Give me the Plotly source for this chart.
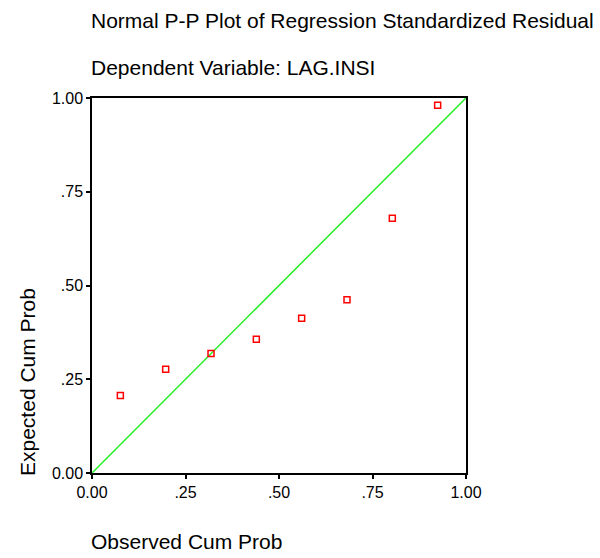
import plotly.graph_objects as go

observed = [0.0758, 0.1970, 0.3182, 0.4394, 0.5606, 0.6818, 0.8030, 0.9242]
expected = [0.207, 0.277, 0.319, 0.357, 0.413, 0.462, 0.679, 0.981]
ref_line = [0.0, 1.0]
tick_vals = [0.0, 0.25, 0.5, 0.75, 1.0]
tick_text = ["0.00", ".25", ".50", ".75", "1.00"]

FONT = "Liberation Sans, Arial, sans-serif"

fig = go.Figure()
fig.add_trace(go.Scatter(x=ref_line, y=ref_line, mode="lines",
                         line=dict(color="#22ee22", width=1.5), showlegend=False,
                         hoverinfo="skip"))
fig.add_trace(go.Scatter(x=observed, y=expected, mode="markers",
                         marker=dict(symbol="square-open", size=6, color="#ff0000",
                                     line=dict(width=1.5, color="#ff0000")),
                         showlegend=False))

axis_common = dict(range=[0, 1], tickvals=tick_vals, ticktext=tick_text,
                   showgrid=False, zeroline=False, showline=True, mirror=True,
                   linecolor="black", linewidth=1.5, ticks="outside", ticklen=4,
                   tickwidth=1.5, tickcolor="black",
                   tickfont=dict(family=FONT, size=16, color="black"))

TS = 21
fig.update_layout(
    width=600, height=558,
    margin=dict(l=92, r=134, t=98, b=85),
    paper_bgcolor="white", plot_bgcolor="white",
    font=dict(family=FONT, size=16, color="black"),
    xaxis=dict(**axis_common),
    yaxis=dict(**axis_common),
    annotations=[
        dict(text="Normal P-P Plot of Regression Standardized Residual",
             xref="paper", yref="paper", x=0, y=1, xanchor="left", yanchor="middle",
             xshift=-3, yshift=98 - 20, showarrow=False,
             font=dict(family=FONT, size=TS, color="black")),
        dict(text="Dependent Variable: LAG.INSI",
             xref="paper", yref="paper", x=0, y=1, xanchor="left", yanchor="middle",
             xshift=-3, yshift=98 - 67, showarrow=False,
             font=dict(family=FONT, size=TS, color="black")),
        dict(text="Observed Cum Prob",
             xref="paper", yref="paper", x=0, y=0, xanchor="left", yanchor="middle",
             xshift=-3, yshift=-(541 - 473), showarrow=False,
             font=dict(family=FONT, size=TS, color="black")),
        dict(text="Expected Cum Prob", textangle=-90,
             xref="paper", yref="paper", x=0, y=0, xanchor="center", yanchor="bottom",
             xshift=-(92 - 27), yshift=-5, showarrow=False,
             font=dict(family=FONT, size=TS, color="black")),
    ],
)

fig.write_html("out.html")
